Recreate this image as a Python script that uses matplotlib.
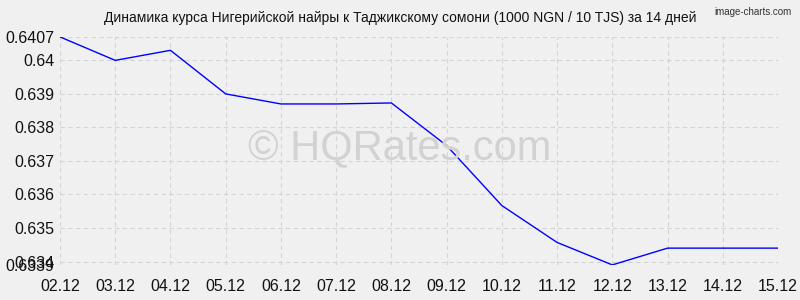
import matplotlib
matplotlib.use("Agg")
import matplotlib.pyplot as plt

plt.rcParams["font.family"] = ["Liberation Sans", "DejaVu Sans"]

dates = ["02.12", "03.12", "04.12", "05.12", "06.12", "07.12", "08.12",
         "09.12", "10.12", "11.12", "12.12", "13.12", "14.12", "15.12"]
rates = [0.6407, 0.6400, 0.6403, 0.6390, 0.6387, 0.6387, 0.63873,
         0.63746, 0.63567, 0.63457, 0.6339, 0.63440, 0.63440, 0.63440]
ytick_vals = [0.6339, 0.634, 0.635, 0.636, 0.637, 0.638, 0.639, 0.640, 0.6407]
ytick_labels = ["0.6339", "0.634", "0.635", "0.636", "0.637", "0.638", "0.639", "0.64", "0.6407"]
title = "Динамика курса Нигерийской найры к Таджикскому сомони (1000 NGN / 10 TJS) за 14 дней"

bg = "#f0f0f0"
fig = plt.figure(figsize=(8, 3), dpi=100, facecolor=bg)
ax = fig.add_axes([0.075, 0.117, 0.8975, 0.76], facecolor=bg)
x = list(range(len(dates)))
ax.plot(x, rates, color="#0000ff", lw=1.0, zorder=3)
ax.set_xlim(0, len(dates) - 1)
ax.set_ylim(0.6339, 0.6407)
ax.set_xticks(x)
ax.set_xticklabels(dates)
ax.set_yticks(ytick_vals)
ax.set_yticklabels(ytick_labels)
ax.grid(True, color="#d4d4d4", linestyle=(0, (4, 3)), lw=0.8)
for s in ax.spines.values():
    s.set_visible(False)
ax.tick_params(length=0, labelsize=11.5, colors="#111111", pad=4)
ax.tick_params(axis="x", pad=10)
fig.text(0.5, 0.505, "© HQRates.com", ha="center", va="center",
         fontsize=30, color="#d2d2d2", zorder=1)
fig.text(0.5, 0.94, title, ha="center", va="center", fontsize=10, color="#111111")
fig.text(0.99, 0.96, "image-charts.com", ha="right", va="center", fontsize=7, color="#333333")
fig.savefig("out.png", dpi=100, facecolor=bg)
